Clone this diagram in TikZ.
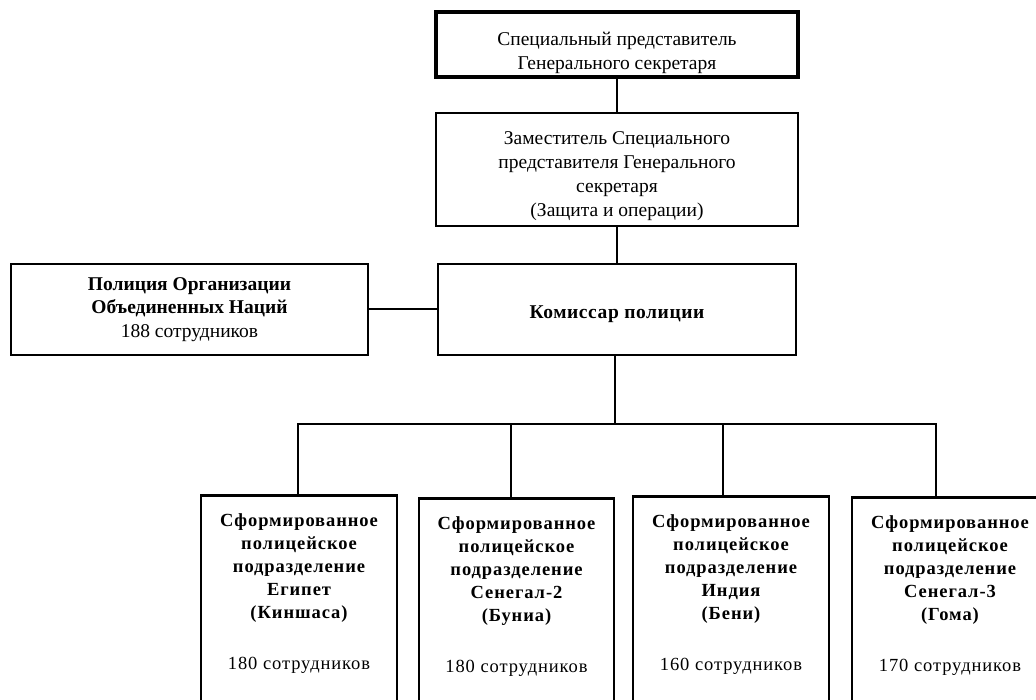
\documentclass[tikz,border=0pt]{standalone}
\usepackage{fontspec}
\setmainfont{Liberation Serif}
\newfontfamily\spfont[LetterSpace=5]{Liberation Serif}
\newfontfamily\kmfont[LetterSpace=3]{Liberation Serif}
\begin{document}
\begin{tikzpicture}[x=1pt,y=-1pt,
  box/.style={draw, line width=2.6pt, align=center, inner sep=0pt, font=\fontsize{19.5}{23.8}\selectfont},
  topbox/.style={box, line width=3.6pt},
  unit/.style={draw, line width=2.6pt, align=center, anchor=north, inner xsep=0pt, inner ysep=18pt, minimum width=196pt, font=\spfont\bfseries\fontsize{18.5}{23.2}\selectfont},
  link/.style={line width=2pt}]
\useasboundingbox (0,0) rectangle (1036,700);
\clip (0,0) rectangle (1036,700);

\node[topbox, minimum width=362pt, minimum height=65pt] (srsg) at (617,44.5)
  {\rule{0pt}{30pt}Специальный представитель\\Генерального секретаря};
\node[box, minimum width=362pt, minimum height=113pt] (dsrsg) at (617,169.5)
  {\rule{0pt}{26pt}Заместитель Специального\\представителя Генерального\\секретаря\\(Защита и операции)};
\node[box, minimum width=358pt, minimum height=91pt] (kom) at (617,309.5)
  {\kmfont\bfseries\rule{0pt}{22pt}Комиссар полиции};
\node[box, minimum width=357pt, minimum height=91pt] (un) at (189.5,309.5)
  {\textbf{Полиция Организации}\\\textbf{Объединенных Наций}\\188 сотрудников};

\node[unit] (p1) at (299,494)
  {Сформированное\\полицейское\\подразделение\\Египет\\(Киншаса)\\[27pt]\mdseries 180 сотрудников\rule[-120pt]{0pt}{0pt}};
\node[unit, minimum width=195pt] (p2) at (516.5,497)
  {Сформированное\\полицейское\\подразделение\\Сенегал-2\\(Буниа)\\[27pt]\mdseries 180 сотрудников\rule[-120pt]{0pt}{0pt}};
\node[unit] (p3) at (731,495)
  {Сформированное\\полицейское\\подразделение\\Индия\\(Бени)\\[27pt]\mdseries 160 сотрудников\rule[-120pt]{0pt}{0pt}};
\node[unit] (p4) at (950,496)
  {Сформированное\\полицейское\\подразделение\\Сенегал-3\\(Гома)\\[27pt]\mdseries 170 сотрудников\rule[-120pt]{0pt}{0pt}};

\coordinate (bar) at (615,424);
\draw[link] (srsg.south) -- (dsrsg.north);
\draw[link] (dsrsg.south) -- (kom.north);
\draw[link] (un.east) -- (kom.west);
\draw[link] (kom.south -| bar) -- (bar);
\draw[link] ([xshift=-1pt]p1.north) |- (bar) -| ([xshift=-14pt]p4.north);
\draw[link] ([xshift=-5.5pt]p2.north) -- ([xshift=-5.5pt]p2.north |- bar);
\draw[link] ([xshift=-8pt]p3.north) -- ([xshift=-8pt]p3.north |- bar);
\end{tikzpicture}
\end{document}
